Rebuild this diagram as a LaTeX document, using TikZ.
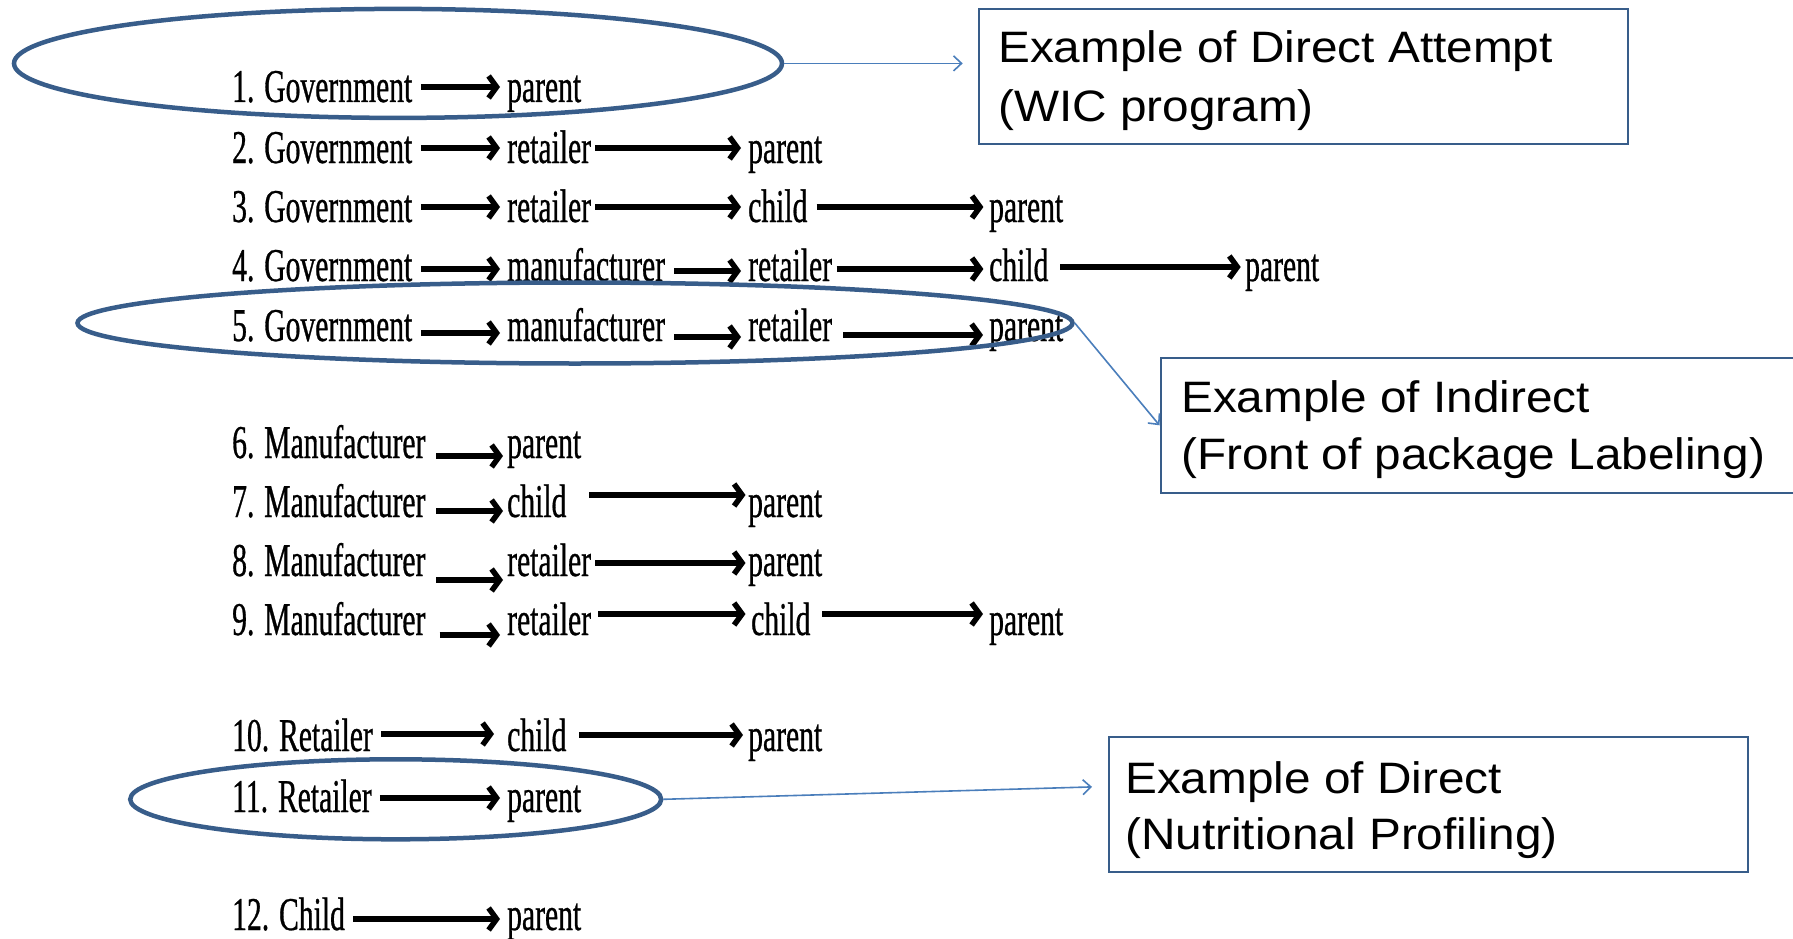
\documentclass[tikz,border=0pt]{standalone}
\usepackage{fontspec}
\usetikzlibrary{arrows.meta,shapes.geometric}
\newfontfamily\rowfont[FakeStretch=0.63,FakeBold=0.6]{Liberation Serif}
\newfontfamily\notefont[FakeStretch=1.085]{Liberation Sans}
\definecolor{ringblue}{HTML}{385D8A}
\definecolor{linkblue}{HTML}{4A7EBB}
\tikzset{
  word/.style={font=\rowfont\fontsize{47}{47}\selectfont, inner sep=0pt, anchor=base west},
  flow/.style={line width=5.5pt, -{Straight Barb[length=8pt,width=22pt]}},
  ring/.style={ellipse, draw=ringblue, line width=4.5pt, inner sep=0pt},
  notebox/.style={rectangle, draw=ringblue, line width=2pt, inner sep=0pt, anchor=north west},
  note/.style={font=\notefont\fontsize{44}{54}\selectfont, inner sep=0pt, anchor=base west},
  link/.style={draw=linkblue, line width=1.6pt, -{Straight Barb[length=8pt,width=15pt]}}
}
% arrow between two words: from, to, gap after, gap before, height above baseline
\newcommand\flowlink[5]{\draw[flow] ([xshift=#3pt,yshift=#5pt]#1.base east) -- ([xshift=-#4pt,yshift=#5pt]#2.base west);}
\begin{document}
\begin{tikzpicture}[x=1pt,y=-1pt]
\path[use as bounding box] (0,0) rectangle (1793,939);
\clip (0,0) rectangle (1793,939);
\fill[white] (0,0) rectangle (1793,939);

% 1
\node[word] (r1a) at (232,102) {1. Government};
\node[word] (r1b) at (507,102) {parent};
\flowlink{r1a}{r1b}{8.5}{7}{15}
% 2
\node[word] (r2a) at (232,163) {2. Government};
\node[word] (r2b) at (507,163) {retailer};
\node[word] (r2c) at (748,163) {parent};
\flowlink{r2a}{r2b}{8.5}{7}{15}
\flowlink{r2b}{r2c}{4}{7}{15}
% 3
\node[word] (r3a) at (232,222) {3. Government};
\node[word] (r3b) at (507,222) {retailer};
\node[word] (r3c) at (748,222) {child};
\node[word] (r3d) at (989,222) {parent};
\flowlink{r3a}{r3b}{8.5}{7}{15}
\flowlink{r3b}{r3c}{4}{7}{15}
\flowlink{r3c}{r3d}{9}{5.6}{15}
% 4
\node[word] (r4a) at (232,281) {4. Government};
\node[word] (r4b) at (507,281) {manufacturer};
\node[word] (r4c) at (748,281) {retailer};
\node[word] (r4d) at (989,281) {child};
\node[word] (r4e) at (1245,281) {parent};
\flowlink{r4a}{r4b}{8.5}{7}{12}
\flowlink{r4b}{r4c}{9}{7}{10}
\flowlink{r4c}{r4d}{4.5}{5.6}{12}
\flowlink{r4d}{r4e}{11.4}{4.3}{14}
% 5
\node[word] (r5a) at (232,341) {5. Government};
\node[word] (r5b) at (507,341) {manufacturer};
\node[word] (r5c) at (748,341) {retailer};
\node[word] (r5d) at (989,341) {parent};
\flowlink{r5a}{r5b}{8.5}{7}{8}
\flowlink{r5b}{r5c}{9}{7}{4}
\flowlink{r5c}{r5d}{11}{6}{6}
% 6
\node[word] (r6a) at (232,458) {6. Manufacturer};
\node[word] (r6b) at (507,458) {parent};
\flowlink{r6a}{r6b}{10.5}{4}{2}
% 7
\node[word] (r7a) at (232,517) {7. Manufacturer};
\node[word] (r7b) at (507,517) {child};
\node[word] (r7c) at (748,517) {parent};
\flowlink{r7a}{r7b}{10.5}{4}{6}
\flowlink{r7b}{r7c}{22.4}{2.5}{22}
% 8
\node[word] (r8a) at (232,576) {8. Manufacturer};
\node[word] (r8b) at (507,576) {retailer};
\node[word] (r8c) at (748,576) {parent};
\flowlink{r8a}{r8b}{10.5}{4}{-4}
\flowlink{r8b}{r8c}{4}{2.5}{13}
% 9
\node[word] (r9a) at (232,635) {9. Manufacturer};
\node[word] (r9b) at (507,635) {retailer};
\node[word] (r9c) at (751,635) {child};
\node[word] (r9d) at (989,635) {parent};
\flowlink{r9a}{r9b}{14}{7}{0}
\flowlink{r9b}{r9c}{7}{5.5}{21}
\flowlink{r9c}{r9d}{11.4}{6}{21}
% 10
\node[word] (r10a) at (232,751) {10. Retailer};
\node[word] (r10b) at (507,751) {child};
\node[word] (r10c) at (748,751) {parent};
\flowlink{r10a}{r10b}{8}{13}{17}
\flowlink{r10b}{r10c}{12.4}{5}{16}
% 11
\node[word] (r11a) at (232,812) {11. Retailer};
\node[word] (r11b) at (507,812) {parent};
\flowlink{r11a}{r11b}{8}{7}{14}
% 12
\node[word] (r12a) at (232,930) {12. Child};
\node[word] (r12b) at (507,930) {parent};
\flowlink{r12a}{r12b}{8}{7}{11}

% rings around the highlighted chains
\node[ring, minimum width=768pt, minimum height=109pt] (e1) at (398,63.4) {};
\node[ring, minimum width=995pt, minimum height=81pt] (e2) at (575,323) {};
\node[ring, minimum width=531pt, minimum height=80pt] (e3) at (395.7,799.3) {};

% note boxes
\node[notebox, minimum width=649.5pt, minimum height=135pt] (b1) at (977.7,8) {};
\node[notebox, minimum width=700pt, minimum height=135pt] (b2) at (1159.5,356.8) {};
\node[notebox, minimum width=639.3pt, minimum height=135pt] (b3) at (1108,736.4) {};

\node[note] (t1a) at (998,63) {Example of Direct Attempt};
\node[note] (t1b) at (998,122) {(WIC program)};
\node[note] (t2a) at (1181,412) {Example of Indirect};
\node[note] (t2b) at (1181,469) {(Front of package Labeling)};
\node[note] (t3a) at (1125,793) {Example of Direct};
\node[note] (t3b) at (1125,849) {(Nutritional Profiling)};

% callout connectors
\draw[link] (e1.east) -- ([xshift=-15pt]e1.east -| b1.west);
\draw[link] (e2.east) -- (b2.west);
\draw[link] (e3.east) -- ([xshift=-16pt,yshift=18pt]b3.west);
\end{tikzpicture}
\end{document}
